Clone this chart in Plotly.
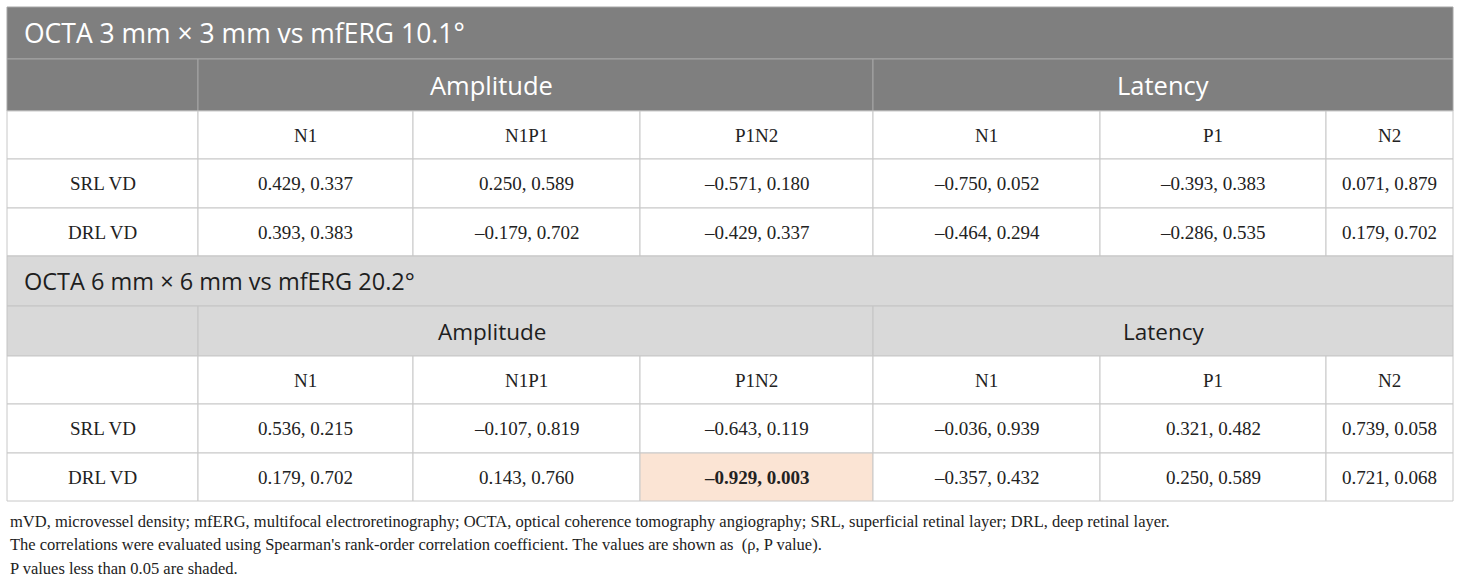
import plotly.graph_objects as go

block_titles = ["OCTA 3 mm × 3 mm vs mfERG 10.1°", "OCTA 6 mm × 6 mm vs mfERG 20.2°"]
groups = ["Amplitude", "Latency"]
group_spans = [(1, 3), (4, 6)]  # columns covered by each group
components = ["N1", "N1P1", "P1N2", "N1", "P1", "N2"]
row_labels = ["SRL VD", "DRL VD"]

rho_3mm = [
    [0.429, 0.250, -0.571, -0.750, -0.393, 0.071],
    [0.393, -0.179, -0.429, -0.464, -0.286, 0.179],
]
p_3mm = [
    [0.337, 0.589, 0.180, 0.052, 0.383, 0.879],
    [0.383, 0.702, 0.337, 0.294, 0.535, 0.702],
]
rho_6mm = [
    [0.536, -0.107, -0.643, -0.036, 0.321, 0.739],
    [0.179, 0.143, -0.929, -0.357, 0.250, 0.721],
]
p_6mm = [
    [0.215, 0.819, 0.119, 0.939, 0.482, 0.058],
    [0.702, 0.760, 0.003, 0.432, 0.589, 0.068],
]

footnotes = [
    "mVD, microvessel density; mfERG, multifocal electroretinography; OCTA, optical coherence tomography angiography; "
    "SRL, superficial retinal layer; DRL, deep retinal layer.",
    "The correlations were evaluated using Spearman's rank-order correlation coefficient. The values are shown as  (ρ, P value).",
    "P values less than 0.05 are shaded.",
]

# ---- layout of the grid (pixels) ----
col_x = [7, 198, 413, 640, 873, 1100, 1326, 1453]
block_rows = [
    [7, 59, 111, 159, 208, 256],
    [256, 306, 356, 404, 453, 501],
]
title_fill = ["#7f7f7f", "#d9d9d9"]
title_font = ["#ffffff", "#1e1e1e"]
title_size = [26.5, 23.5]
inner_line = ["#a6a6a6", "#c4c4c4"]
grid_line = "#c8c8c8"
shade_fill = "#fbe4d4"
body_color = "#222222"
body_size = 19
sans = "Open Sans"
serif = "Liberation Serif"


def fmt(v):
    return ("–" if v < 0 else "") + "%.3f" % abs(v)


fig = go.Figure()
shapes = []
annotations = []


def cell(x0, x1, y0, y1, fill, line):
    shapes.append(dict(type="rect", xref="x", yref="y", x0=x0, x1=x1, y0=y0, y1=y1,
                       fillcolor=fill, line=dict(color=line, width=1), layer="below"))


def text(x, y, s, size, color, family, xanchor="center", bold=False):
    annotations.append(dict(x=x, y=y, xref="x", yref="y", text="<b>%s</b>" % s if bold else s,
                            showarrow=False, xanchor=xanchor, yanchor="middle",
                            font=dict(size=size, color=color, family=family)))


for b, (title, rho, pv) in enumerate(zip(block_titles, [rho_3mm, rho_6mm], [p_3mm, p_6mm])):
    ys = block_rows[b]
    # block title row
    cell(col_x[0], col_x[-1], ys[0], ys[1], title_fill[b], inner_line[b])
    text(col_x[0] + 15, (ys[0] + ys[1]) / 2, title, title_size[b], title_font[b], sans, xanchor="left")
    # group header row
    cell(col_x[0], col_x[1], ys[1], ys[2], title_fill[b], inner_line[b])
    for g, (c0, c1) in zip(groups, group_spans):
        cell(col_x[c0], col_x[c1 + 1], ys[1], ys[2], title_fill[b], inner_line[b])
        cx = (col_x[c0] + col_x[c1 + 1]) / 2
        if g == "Amplitude":
            cx -= 44
        text(cx, (ys[1] + ys[2]) / 2, g, title_size[b] - 1, title_font[b], sans)
    # component row
    cell(col_x[0], col_x[1], ys[2], ys[3], "#ffffff", grid_line)
    for j, comp in enumerate(components):
        cell(col_x[j + 1], col_x[j + 2], ys[2], ys[3], "#ffffff", grid_line)
        text((col_x[j + 1] + col_x[j + 2]) / 2, (ys[2] + ys[3]) / 2, comp, body_size, body_color, serif)
    # value rows
    for i, lab in enumerate(row_labels):
        y0, y1 = ys[3 + i], ys[4 + i]
        cell(col_x[0], col_x[1], y0, y1, "#ffffff", grid_line)
        text((col_x[0] + col_x[1]) / 2, (y0 + y1) / 2, lab, body_size, body_color, serif)
        for j in range(len(components)):
            sig = pv[i][j] < 0.05
            cell(col_x[j + 1], col_x[j + 2], y0, y1, shade_fill if sig else "#ffffff", grid_line)
            text((col_x[j + 1] + col_x[j + 2]) / 2, (y0 + y1) / 2,
                 "%s, %.3f" % (fmt(rho[i][j]), pv[i][j]), body_size, body_color, serif, bold=sig)

for k, line in enumerate(footnotes):
    text(8, 521 + 23.5 * k, line, 16.5, body_color, serif, xanchor="left")

fig.update_layout(
    width=1460, height=584,
    margin=dict(l=0, r=0, t=0, b=0),
    paper_bgcolor="#ffffff", plot_bgcolor="#ffffff",
    xaxis=dict(range=[0, 1460], visible=False, fixedrange=True),
    yaxis=dict(range=[584, 0], visible=False, fixedrange=True),
    shapes=shapes,
    annotations=annotations,
    showlegend=False,
)

# the page body has a default 8px margin; drop it so the figure sits at the window corner
fig.write_html("out.html", config={"displayModeBar": False},
               post_script="document.body.style.margin='0px';")
